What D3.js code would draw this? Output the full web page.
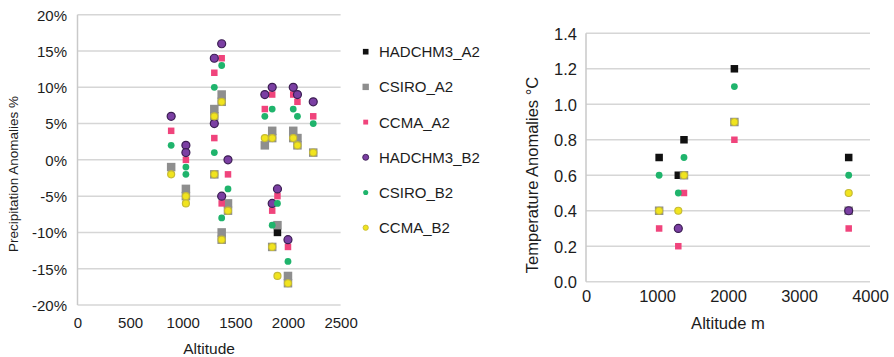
<!DOCTYPE html>
<html>
<head>
<meta charset="utf-8">
<script src="https://cdn.jsdelivr.net/npm/d3@7"></script>
<style>
  html, body { margin: 0; padding: 0; background: #fff; }
  svg { display: block; font-family: "Liberation Sans", Arial, sans-serif; }
</style>
</head>
<body>
<script>
// ---------- DATA ----------
const seriesNames = ["HADCHM3_A2", "CSIRO_A2", "CCMA_A2", "HADCHM3_B2", "CSIRO_B2", "CCMA_B2"];

// Precipitation anomalies (%) vs altitude: [altitude, value]
const precip_HADCHM3_A2 = [[1900, -10]];
const precip_CSIRO_A2 = [[890, -1], [1030, -4], [1030, -5], [1300, 7], [1300, 6], [1300, -2], [1370, 9], [1370, 8], [1370, -10], [1370, -11], [1430, -6], [1430, -7], [1780, 2], [1850, 4], [1850, 3], [1850, -12], [1900, -9], [2000, -16], [2000, -17], [2050, 4], [2050, 3], [2090, 3], [2090, 2], [2240, 1]];
const precip_CCMA_A2 = [[890, 4], [1030, 0], [1300, 12], [1300, 3], [1370, 14], [1370, -6], [1430, -2], [1780, 7], [1850, 9], [1850, -7], [1900, -5], [2000, -12], [2050, 9], [2090, 8], [2240, 6]];
const precip_HADCHM3_B2 = [[890, 6], [1030, 2], [1030, 1], [1300, 14], [1300, 5], [1370, 16], [1370, -5], [1430, 0], [1780, 9], [1850, 10], [1850, -6], [1900, -4], [2000, -11], [2050, 10], [2090, 9], [2240, 8]];
const precip_CSIRO_B2 = [[890, 2], [1030, -1], [1030, -2], [1300, 10], [1300, 1], [1370, 13], [1370, -8], [1430, -4], [1780, 6], [1850, 7], [1850, -9], [1900, -6], [2000, -14], [2050, 7], [2090, 6], [2240, 5]];
const precip_CCMA_B2 = [[890, -2], [1030, -5], [1030, -6], [1300, 6], [1300, -2], [1370, 8], [1370, -11], [1430, -7], [1780, 3], [1850, 3], [1850, -12], [1900, -16], [2000, -17], [2050, 3], [2090, 2], [2240, 1]];

// Temperature anomalies (°C) vs altitude: [altitude, value]
const temp_HADCHM3_A2 = [[1030, 0.7], [1300, 0.6], [1380, 0.8], [2090, 1.2], [3700, 0.7]];
const temp_CSIRO_A2 = [[1030, 0.4], [1380, 0.6], [2090, 0.9], [3700, 0.4]];
const temp_CCMA_A2 = [[1030, 0.3], [1300, 0.2], [1380, 0.5], [2090, 0.8], [3700, 0.3]];
const temp_HADCHM3_B2 = [[1300, 0.3], [3700, 0.4]];
const temp_CSIRO_B2 = [[1030, 0.6], [1300, 0.5], [1380, 0.7], [2090, 1.1], [3700, 0.6]];
const temp_CCMA_B2 = [[1030, 0.4], [1300, 0.4], [1380, 0.6], [2090, 0.9], [3700, 0.5]];

// Ticks
const precipXTicks = [0, 500, 1000, 1500, 2000, 2500];
const precipYTicks = [-20, -15, -10, -5, 0, 5, 10, 15, 20];
const tempXTicks = [0, 1000, 2000, 3000, 4000];
const tempYTicks = [0, 0.2, 0.4, 0.6, 0.8, 1.0, 1.2, 1.4];

const precipData = [precip_HADCHM3_A2, precip_CSIRO_A2, precip_CCMA_A2, precip_HADCHM3_B2, precip_CSIRO_B2, precip_CCMA_B2];
const tempData = [temp_HADCHM3_A2, temp_CSIRO_A2, temp_CCMA_A2, temp_HADCHM3_B2, temp_CSIRO_B2, temp_CCMA_B2];

// ---------- STYLES ----------
const markerStyles = {
  "HADCHM3_A2": { shape: "square", fill: "#111111", stroke: "none", size: 7.5 },
  "CSIRO_A2":   { shape: "square", fill: "#8e8e8e", stroke: "none", size: 8.5 },
  "CCMA_A2":    { shape: "square", fill: "#f0447c", stroke: "none", size: 6.5 },
  "HADCHM3_B2": { shape: "circle", fill: "#7b3fa3", stroke: "#3b1e52", size: 8 },
  "CSIRO_B2":   { shape: "circle", fill: "#1fb46c", stroke: "none", size: 6.8 },
  "CCMA_B2":    { shape: "circle", fill: "#f1e41e", stroke: "#c6bb35", size: 7 }
};

const textColor = "#1c1c1c";
const gridColor = "#d6d6d6";

const svg = d3.select("body").append("svg")
  .attr("width", 894).attr("height", 357);
svg.append("rect").attr("width", 894).attr("height", 357).attr("fill", "#fff");

function drawMarker(g, name, cx, cy, scale) {
  const s = markerStyles[name];
  const sz = s.size * scale;
  if (s.shape === "square") {
    g.append("rect")
      .attr("x", cx - sz / 2).attr("y", cy - sz / 2)
      .attr("width", sz).attr("height", sz)
      .attr("fill", s.fill);
  } else {
    g.append("circle")
      .attr("cx", cx).attr("cy", cy).attr("r", sz / 2)
      .attr("fill", s.fill)
      .attr("stroke", s.stroke)
      .attr("stroke-width", s.stroke === "none" ? 0 : 1.2 * scale);
  }
}

function drawChart(cfg) {
  const x = d3.scaleLinear().domain(cfg.xDomain).range(cfg.xRange);
  const y = d3.scaleLinear().domain(cfg.yDomain).range(cfg.yRange);
  const g = svg.append("g");

  // gridlines
  g.append("g").selectAll("line").data(cfg.yTicks).join("line")
    .attr("x1", cfg.xRange[0]).attr("x2", cfg.xRange[1])
    .attr("y1", d => y(d)).attr("y2", d => y(d))
    .attr("stroke", gridColor).attr("stroke-width", 1.5);
  // vertical axis line
  g.append("line")
    .attr("x1", cfg.xRange[0]).attr("x2", cfg.xRange[0])
    .attr("y1", cfg.yRange[1]).attr("y2", cfg.yRange[0])
    .attr("stroke", "#c9c9c9").attr("stroke-width", 1.5);

  // y axis labels
  const yAxis = g.append("g")
    .attr("transform", `translate(${cfg.xRange[0]},0)`)
    .call(d3.axisLeft(y).tickValues(cfg.yTicks).tickSize(0).tickPadding(cfg.yPad).tickFormat(cfg.yFormat));
  yAxis.select(".domain").remove();
  yAxis.selectAll("text")
    .attr("font-family", "Liberation Sans, Arial, sans-serif")
    .attr("font-size", cfg.tickFont).attr("fill", textColor).attr("dy", "0.36em");

  // x axis labels
  const xAxis = g.append("g")
    .attr("transform", `translate(0,${cfg.yRange[0]})`)
    .call(d3.axisBottom(x).tickValues(cfg.xTicks).tickSize(0).tickPadding(cfg.xPad).tickFormat(d3.format("d")));
  xAxis.select(".domain").remove();
  xAxis.selectAll("text")
    .attr("font-family", "Liberation Sans, Arial, sans-serif")
    .attr("font-size", cfg.tickFont).attr("fill", textColor);

  // axis titles
  g.append("text")
    .attr("x", (cfg.xRange[0] + cfg.xRange[1]) / 2).attr("y", cfg.xTitleY)
    .attr("text-anchor", "middle").attr("font-size", cfg.xTitleFont).attr("fill", textColor)
    .text(cfg.xTitle);
  g.append("text")
    .attr("transform", `translate(${cfg.yTitleX},${cfg.yTitleY}) rotate(-90)`)
    .attr("text-anchor", "middle").attr("font-size", cfg.yTitleFont).attr("fill", textColor)
    .text(cfg.yTitle);

  // points, in series order
  const pts = g.append("g");
  cfg.data.forEach((series, i) => {
    const name = seriesNames[i];
    series.forEach(([a, v]) => drawMarker(pts, name, x(a), y(v), cfg.markerScale));
  });
}

drawChart({
  data: precipData,
  xDomain: [0, 2500], xRange: [77.5, 340.6],
  yDomain: [-20, 20], yRange: [305, 14.7],
  xTicks: precipXTicks, yTicks: precipYTicks,
  yFormat: d => d + "%",
  tickFont: 15, yPad: 10.5, xPad: 12.5,
  xTitle: "Altitude", xTitleY: 353.5, xTitleFont: 15.5,
  yTitle: "Precipitation Anomalies %", yTitleX: 17.6, yTitleY: 174, yTitleFont: 13.5,
  markerScale: 1
});

drawChart({
  data: tempData,
  xDomain: [0, 4000], xRange: [586, 870],
  yDomain: [0, 1.4], yRange: [281.7, 33.3],
  xTicks: tempXTicks, yTicks: tempYTicks,
  yFormat: d3.format(".1f"),
  tickFont: 16.5, yPad: 9, xPad: 9,
  xTitle: "Altitude m", xTitleY: 329.3, xTitleFont: 16.6,
  yTitle: "Temperature Anomalies °C", yTitleX: 537.6, yTitleY: 175, yTitleFont: 16.5,
  markerScale: 1
});

// legend
const legend = svg.append("g");
seriesNames.forEach((name, i) => {
  const cy = 51.7 + i * 35.2;
  drawMarker(legend, name, 365.7, cy, 0.75);
  legend.append("text")
    .attr("x", 379).attr("y", cy).attr("dy", "0.36em")
    .attr("font-size", 15).attr("fill", textColor)
    .text(name);
});
</script>
</body>
</html>
